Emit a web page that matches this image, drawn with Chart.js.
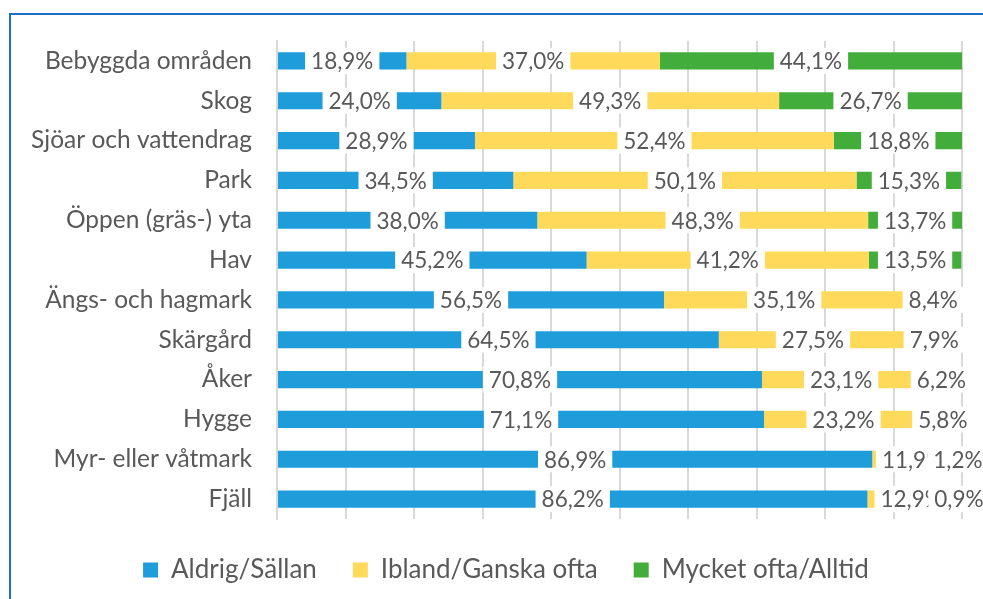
<!DOCTYPE html>
<html>
<head>
<meta charset="utf-8">
<script src="https://cdn.jsdelivr.net/npm/chart.js@4"></script>
<style>
  html, body { margin: 0; padding: 0; background: #fff; }
  #wrap { position: relative; width: 983px; height: 599px; overflow: hidden; }
  #frame { position: absolute; left: 9px; top: 13px; width: 1000px; height: 620px;
           border-left: 2px solid #1e6fcc; border-top: 2px solid #1e6fcc; pointer-events: none; }
  canvas { position: absolute; left: 0; top: 0; }
</style>
</head>
<body>
<div id="wrap">
  <canvas id="chart" width="983" height="599"></canvas>
  <div id="frame"></div>
</div>
<script>
// categories, top to bottom
let categories = [
  "Bebyggda områden", "Skog", "Sjöar och vattendrag", "Park", "Öppen (gräs-) yta", "Hav",
  "Ängs- och hagmark", "Skärgård", "Åker", "Hygge", "Myr- eller våtmark", "Fjäll"
];
let aldrig = [18.9, 24.0, 28.9, 34.5, 38.0, 45.2, 56.5, 64.5, 70.8, 71.1, 86.9, 86.2];
let ibland = [37.0, 49.3, 52.4, 50.1, 48.3, 41.2, 35.1, 27.5, 23.1, 23.2, 11.9, 12.9];
let mycket = [44.1, 26.7, 18.8, 15.3, 13.7, 13.5, 8.4, 7.9, 6.2, 5.8, 1.2, 0.9];
let seriesNames = ["Aldrig/Sällan", "Ibland/Ganska ofta", "Mycket ofta/Alltid"];

const textColor = "#595959";
const fontFamily = "Lato, 'Open Sans', sans-serif";

// data labels centred in each segment, on white boxes
const segmentLabels = {
  id: "segmentLabels",
  afterLayout(chart) {
    // legend sits a bit right of the canvas centre
    chart.legend.left = 50;
  },
  afterDatasetsDraw(chart) {
    const ctx = chart.ctx;
    ctx.save();
    ctx.font = "22.5px " + fontFamily;
    ctx.textAlign = "center";
    ctx.textBaseline = "middle";
    chart.data.datasets.forEach((ds, di) => {
      const meta = chart.getDatasetMeta(di);
      meta.data.forEach((bar, i) => {
        let txt = ds.data[i].toFixed(1).replace(".", ",") + "%";
        let cx = (bar.x + bar.base) / 2;
        let w = ctx.measureText(txt).width + 12;
        ctx.fillStyle = "#fff";
        ctx.fillRect(cx - w / 2, bar.y - 13, w, 26);
        ctx.fillStyle = textColor;
        ctx.fillText(txt, cx, bar.y + 1);
      });
    });
    ctx.restore();
  }
};

const ctx = document.getElementById("chart").getContext("2d");
let chart = new Chart(ctx, {
  type: "bar",
  data: {
    labels: categories,
    datasets: [
      { label: seriesNames[0], data: aldrig, backgroundColor: "#1f9ddb" },
      { label: seriesNames[1], data: ibland, backgroundColor: "#ffd95a" },
      { label: seriesNames[2], data: mycket, backgroundColor: "#43ad3b" }
    ]
  },
  options: {
    indexAxis: "y",
    responsive: false,
    animation: false,
    barPercentage: 0.43,
    categoryPercentage: 1.0,
    layout: { padding: { top: 41, right: 21, left: 0, bottom: 6 } },
    scales: {
      x: {
        stacked: true, min: 0, max: 100,
        ticks: { display: false, stepSize: 10 },
        grid: { color: "#d9d9d9", lineWidth: 2, drawTicks: false },
        border: { display: false },
        afterFit(scale) { scale.height = 2; }
      },
      y: {
        stacked: true,
        ticks: { color: textColor, font: { family: fontFamily, size: 24.5 }, padding: 25 },
        grid: { display: false, drawTicks: false },
        border: { display: true, color: "#d9d9d9", width: 2 },
        afterFit(scale) { scale.width = 277; }
      }
    },
    plugins: {
      legend: {
        position: "bottom",
        labels: {
          color: textColor, font: { family: fontFamily, size: 26 },
          boxWidth: 15, boxHeight: 15, padding: 36
        }
      },
      tooltip: { enabled: false }
    }
  },
  plugins: [segmentLabels]
});
</script>
</body>
</html>
